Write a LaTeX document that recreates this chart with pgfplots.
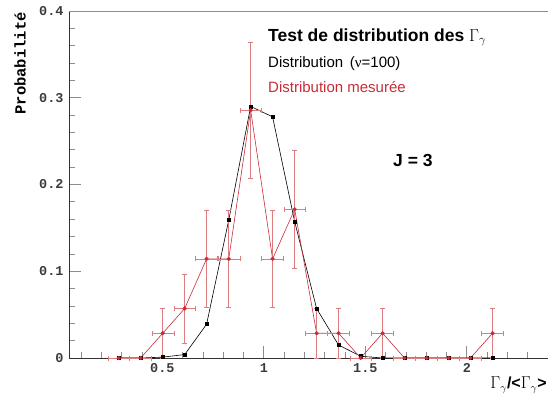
\documentclass[border=0pt]{standalone}
\usepackage{pgfplots}
\pgfplotsset{compat=1.18}
\usepackage{pgfplotstable}
\usepackage{fontspec}
\setmainfont{Liberation Sans}
\setmonofont{Liberation Mono}
\newfontfamily\serifG{Liberation Serif}
\definecolor{myred}{RGB}{200,45,55}
\definecolor{errred}{RGB}{220,125,130}
\definecolor{tickgray}{RGB}{140,140,140}
\definecolor{labgray}{RGB}{60,60,60}

\pgfplotstableread{
x y
0.285 0
0.393 0
0.502 0.001
0.610 0.004
0.718 0.039
0.827 0.159
0.935 0.290
1.043 0.278
1.152 0.157
1.260 0.057
1.368 0.015
1.477 0.002
1.585 0
1.693 0
1.802 0
1.910 0
2.018 0
2.127 0
}\blackdata

\pgfplotstableread{
x y ex ey
0.285 0 0.054 0
0.393 0 0.054 0
0.502 0.0286 0.054 0.029
0.610 0.0571 0.054 0.040
0.718 0.1143 0.054 0.056
0.827 0.1143 0.054 0.056
0.935 0.2857 0.054 0.078
1.043 0.1143 0.054 0.056
1.152 0.1714 0.054 0.068
1.260 0.0286 0.054 0.029
1.368 0.0286 0.054 0.029
1.477 0 0.054 0
1.585 0.0286 0.054 0.029
1.693 0 0.054 0
1.802 0 0.054 0
1.910 0 0.054 0
2.018 0 0.054 0
2.127 0.0286 0.054 0.029
}\reddata

\begin{document}
\begin{tikzpicture}[x=1bp,y=1bp]
\useasboundingbox (0,0) rectangle (548,396);
\begin{axis}[
  at={(69bp,38bp)}, anchor=south west, scale only axis,
  width=479bp, height=347bp,
  xmin=0.04, xmax=2.4, ymin=0, ymax=0.4,
  axis x line*=bottom, axis y line*=left,
  axis line style={-, color=black!80, line width=0.8bp},
  tick align=inside,
  xtick={0.5,1,1.5,2}, xticklabels={0.5,1,1.5,2},
  minor xtick={0.1,0.2,0.3,0.4,0.6,0.7,0.8,0.9,1.1,1.2,1.3,1.4,1.6,1.7,1.8,1.9,2.1,2.2,2.3},
  ytick={0,0.1,0.2,0.3,0.4}, yticklabels={0,0.1,0.2,0.3,0.4},
  minor y tick num=4,
  major tick length=12bp, minor tick length=6bp,
  every tick/.style={color=tickgray, line width=0.8bp},
  tick label style={font=\ttfamily\bfseries\fontsize{13.5bp}{15bp}\selectfont, color=labgray},
  xticklabel style={yshift=-2bp},
  yticklabel style={xshift=-2bp},
  clip=false,
]
\addplot[color=black, line width=0.6bp, mark=square*, mark size=1.6bp] table[x=x,y=y] {\blackdata};
\addplot[color=myred, line width=0.6bp, mark=*, mark size=1.8bp, mark options={fill=myred},
  error bars/.cd, x dir=both, x explicit, y dir=both, y explicit,
  error bar style={color=errred, line width=0.7bp},
  error mark=|, error mark options={mark size=2.5bp, color=errred}]
  table[x=x,y=y,x error=ex,y error=ey] {\reddata};
\draw[color=tickgray, line width=0.9bp] (rel axis cs:0,1) -- (rel axis cs:1,1);
\end{axis}
\node[anchor=base west, inner sep=0] at (268,355) {\bfseries\fontsize{17.5bp}{19bp}\selectfont Test de distribution des {\mdseries$\Gamma_{\gamma}$}};
\node[anchor=base west, inner sep=0] at (268,329) {\fontsize{15bp}{17bp}\selectfont Distribution\, ({\serifG ν}=100)};
\node[anchor=base west, inner sep=0, color=myred] at (268,304) {\fontsize{15bp}{17bp}\selectfont Distribution mesurée};
\node[anchor=base west, inner sep=0] at (393,230) {\bfseries\fontsize{17.5bp}{19bp}\selectfont J = 3};
\node[rotate=90, anchor=east, inner sep=0] at (20,384) {\ttfamily\bfseries\fontsize{15.5bp}{17bp}\selectfont Probabilité};
\node[anchor=east, inner sep=0] at (547,11) {\fontsize{16bp}{18bp}\selectfont $\Gamma_{\gamma}$\textbf{/<}$\Gamma_{\gamma}$\textbf{>}};
\end{tikzpicture}
\end{document}
